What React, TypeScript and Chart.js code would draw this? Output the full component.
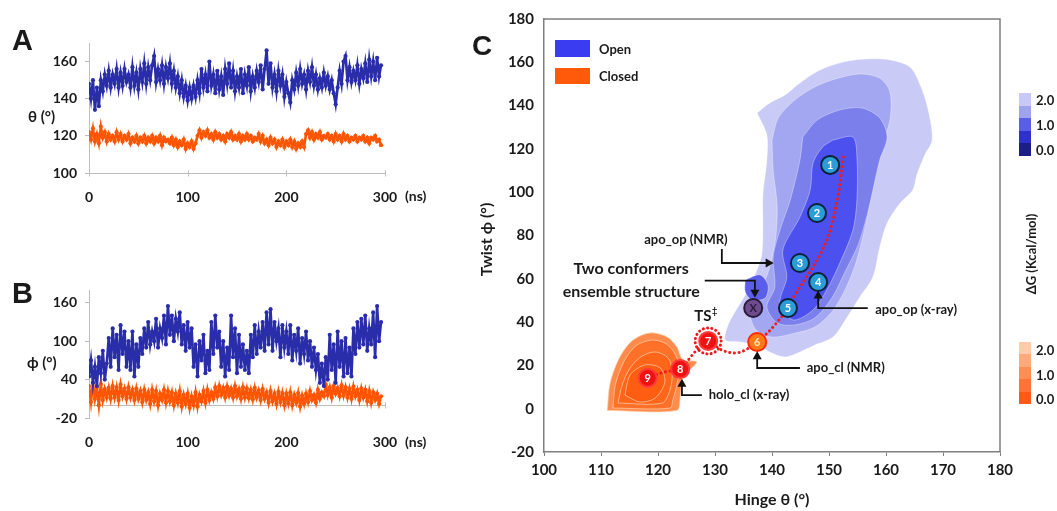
import React, { useEffect, useRef } from "react";
import { Chart, registerables } from "chart.js";

Chart.register(...registerables);

const FONT = "Lato, 'Open Sans', 'DejaVu Sans', sans-serif";

// ---------------- Panels A & B : MD trajectories ----------------
const TIME_STEP_NS = 2;
const TIME_TICKS = [0, 100, 200, 300];
const THETA_TICKS = [100, 120, 140, 160];
const PHI_TICKS = [-20, 40, 100, 160];

// Hinge angle theta (deg), one value every 2 ns
const THETA_OPEN = [
  148, 140, 150, 134, 146, 136, 150, 144, 153, 147,
  155, 146, 153, 148, 156, 146, 154, 147, 156, 149,
  153, 146, 157, 147, 154, 145, 156, 149, 159, 148,
  157, 150, 158, 163, 149, 156, 150, 158, 148, 157,
  151, 159, 148, 155, 146, 152, 143, 150, 141, 147,
  139, 146, 140, 147, 141, 150, 143, 156, 146, 153,
  144, 160, 147, 153, 143, 155, 145, 152, 142, 156,
  148, 159, 146, 155, 144, 152, 146, 156, 143, 153,
  147, 157, 144, 152, 146, 155, 149, 158, 145, 156,
  166, 148, 159, 146, 153, 144, 155, 147, 153, 141,
  149, 143, 138, 150, 145, 154, 147, 156, 148, 153,
  145, 155, 149, 157, 147, 153, 145, 151, 146, 154,
  147, 152, 145, 150, 143, 137, 146, 155, 148, 160,
  163, 150, 157, 149, 155, 150, 158, 148, 156, 151,
  159, 149, 161, 152, 160, 150, 162, 152, 158,
];
const THETA_CLOSED = [
  122, 118, 124, 117, 121, 116, 125, 119, 122, 117,
  121, 118, 120, 117, 122, 118, 121, 117, 120, 118,
  121, 116, 119, 117, 120, 116, 119, 117, 120, 116,
  119, 117, 120, 116, 119, 117, 120, 115, 119, 117,
  118, 116, 119, 115, 118, 114, 117, 115, 118, 113,
  116, 114, 117, 113, 116, 120, 123, 119, 122, 120,
  123, 119, 121, 118, 122, 119, 121, 118, 120, 117,
  121, 119, 122, 118, 120, 118, 121, 117, 120, 118,
  121, 118, 120, 117, 119, 118, 121, 117, 120, 116,
  118, 115, 119, 116, 118, 114, 117, 115, 118, 114,
  117, 115, 118, 114, 117, 113, 116, 114, 117, 114,
  121, 123, 119, 122, 118, 121, 119, 122, 118, 120,
  119, 121, 118, 120, 117, 121, 118, 120, 117, 121,
  118, 120, 117, 119, 118, 120, 117, 119, 118, 120,
  117, 119, 116, 119, 118, 120, 117, 118, 115,
];
// Twist angle phi (deg), one value every 2 ns
const PHI_OPEN = [
  45, 70, 35, 60, 30, 75, 50, 85, 40, 65,
  105, 60, 120, 75, 110, 55, 125, 80, 115, 60,
  100, 55, 115, 45, 95, 60, 105, 80, 120, 90,
  130, 95, 115, 100, 135, 90, 120, 105, 140, 95,
  155, 110, 140, 100, 135, 115, 145, 95, 125, 85,
  130, 90, 120, 60, 95, 45, 100, 70, 110, 50,
  85, 55, 130, 80, 140, 90, 115, 60, 100, 45,
  90, 55, 140, 75, 120, 50, 110, 60, 95, 55,
  85, 50, 110, 75, 125, 80, 115, 90, 130, 85,
  145, 95, 150, 85, 130, 100, 120, 75, 125, 90,
  115, 80, 125, 70, 110, 85, 120, 65, 105, 80,
  115, 70, 100, 60, 90, 55, 80, 35, 65, 30,
  75, 40, 110, 55, 95, 35, 115, 60, 100, 45,
  105, 50, 90, 45, 120, 80, 130, 90, 135, 95,
  140, 85, 120, 95, 145, 75, 155, 100, 130,
];
const PHI_CLOSED = [
  30, 5, 35, 10, 28, 0, 33, 8, 25, 12,
  27, 10, 30, 12, 28, 8, 32, 14, 26, 10,
  28, 12, 24, 8, 26, 10, 22, 5, 24, 8,
  20, 2, 24, 6, 22, 0, 18, 8, 24, 4,
  22, 6, 20, 0, 18, 4, 22, -2, 16, 2,
  18, -4, 14, 0, 20, -2, 16, 6, 22, 4,
  24, 8, 20, 10, 28, 14, 30, 16, 27, 12,
  29, 15, 26, 12, 30, 14, 25, 10, 28, 12,
  26, 11, 24, 9, 27, 12, 23, 8, 25, 10,
  20, 4, 22, 6, 18, 2, 21, 5, 19, 0,
  18, 3, 20, 0, 16, 4, 19, -2, 15, 2,
  18, 5, 22, 8, 16, 4, 24, 10, 20, 14,
  32, 16, 28, 12, 30, 18, 27, 14, 31, 15,
  28, 12, 26, 10, 29, 14, 24, 8, 26, 12,
  24, 6, 22, 4, 20, 8, 18, 2, 14,
];

// ---------------- Panel C : free-energy landscape ----------------
const HINGE_TICKS = [100, 110, 120, 130, 140, 150, 160, 170, 180];
const TWIST_TICKS = [-20, 0, 20, 40, 60, 80, 100, 120, 140, 160, 180];

// contour outlines [hinge, twist]
const OPEN_LEVEL_20 = [
  [137.4, 136.6], [139.6, 141.2], [142.3, 144.9], [144.9, 150.4], [148.4, 156.4], [152.5, 160.1],
  [156.3, 161.5], [160.7, 161.1], [164.2, 157.8], [166.0, 149.5], [167.4, 138.0], [168.1, 124.1],
  [166.8, 117.2], [165.4, 107.9], [164.7, 101.0], [162.5, 95.0], [160.2, 85.8], [158.9, 74.7],
  [157.7, 60.8], [155.4, 51.6], [153.2, 42.4], [150.7, 33.1], [147.5, 29.4], [144.9, 26.2],
  [142.3, 23.9], [139.6, 26.2], [137.4, 29.4], [134.4, 30.8], [131.8, 31.7], [132.3, 38.7],
  [133.5, 44.7], [135.3, 52.5], [137.0, 61.8], [138.2, 71.0], [138.4, 84.8], [138.4, 98.7],
  [139.1, 114.9], [139.1, 126.4], [137.4, 136.6],
];
const OPEN_LEVEL_15 = [
  [140.0, 124.1], [141.1, 134.3], [144.0, 142.6], [147.5, 148.6], [151.1, 152.3], [155.4, 154.6],
  [158.9, 152.7], [160.7, 146.3], [160.7, 133.3], [159.3, 121.8], [158.1, 110.3], [157.2, 98.7],
  [156.8, 89.5], [155.8, 77.9], [154.6, 66.4], [152.8, 54.8], [150.5, 44.7], [147.5, 37.7],
  [144.0, 34.9], [140.0, 33.1], [137.2, 36.4], [136.1, 44.7], [137.0, 52.5], [138.8, 59.4],
  [140.0, 69.6], [140.7, 80.2], [140.9, 94.1], [140.2, 110.3], [140.0, 124.1],
];
const OPEN_LEVEL_10 = [
  [145.4, 125.5], [147.9, 133.3], [151.9, 138.0], [155.8, 138.9], [158.9, 134.3], [160.2, 125.5],
  [158.9, 114.9], [157.7, 101.0], [156.7, 89.5], [155.1, 75.6], [152.8, 63.1], [150.5, 51.1],
  [147.5, 41.9], [144.0, 38.7], [140.9, 39.6], [139.1, 47.0], [140.5, 56.2], [140.2, 70.1],
  [141.4, 82.5], [143.2, 96.4], [144.9, 114.9], [145.4, 125.5],
];
const OPEN_LEVEL_05 = [
  [150.7, 124.1], [154.2, 125.5], [154.9, 116.3], [154.9, 96.4], [154.2, 82.5], [151.9, 67.3],
  [149.6, 54.8], [147.2, 45.6], [143.7, 41.0], [141.4, 48.8], [142.6, 60.8], [141.9, 73.3],
  [144.9, 88.5], [146.7, 101.0], [147.2, 113.5], [148.9, 120.9], [150.7, 124.1],
];
const OPEN_PATCH_05 = [
  [135.3, 59.4], [137.9, 61.8], [139.3, 57.1], [138.8, 51.1], [136.5, 50.2], [135.3, 53.9], [135.3, 59.4],
];
const CLOSED_LEVEL_20 = [
  [111.1, -0.8], [111.6, 11.9], [113.3, 23.9], [115.6, 31.7], [118.6, 35.0], [121.6, 33.1],
  [123.3, 28.5], [124.4, 22.5], [126.8, 21.6], [124.4, 14.6], [123.9, 5.4], [123.3, -0.8], [111.1, -0.8],
];
const CLOSED_LEVEL_15 = [
  [112.1, 0.3], [112.5, 10.9], [114.0, 21.6], [116.1, 29.0], [118.9, 31.7], [121.2, 30.3],
  [122.8, 26.2], [123.7, 19.7], [123.3, 10.9], [122.6, 4.0], [122.1, 0.3], [112.1, 0.3],
];
const CLOSED_LEVEL_10 = [
  [113.0, 2.6], [113.7, 10.9], [115.1, 18.8], [117.2, 24.3], [119.6, 26.2], [121.8, 23.4],
  [122.5, 17.0], [122.1, 8.6], [120.7, 2.6], [113.0, 2.6],
];
const CLOSED_LEVEL_05 = [
  [114.2, 6.3], [115.1, 15.6], [117.7, 20.2], [120.4, 18.8], [121.2, 12.3], [119.5, 4.9], [116.8, 3.1], [114.2, 6.3],
];

// transition pathway
const PATHWAY = [
  [152.5, 116.3], [151.6, 98.7], [150.2, 82.5], [148.4, 71.0], [146.3, 61.8], [144.0, 52.5],
  [142.8, 46.5], [140.5, 38.7], [138.8, 34.0], [137.4, 30.8], [135.3, 27.1], [133.5, 25.7],
  [131.2, 27.1], [129.5, 30.3], [128.8, 31.3], [126.8, 27.1], [125.3, 22.5], [123.9, 18.3],
  [121.2, 17.0], [118.2, 14.2],
];

// numbered structures
const MARKER_LABELS = ["1", "2", "3", "4", "5", "6", "7", "8", "9", "X"];
const MARKER_HINGE = [150.2, 147.9, 144.9, 148.1, 142.8, 137.4, 128.8, 123.9, 118.2, 136.7];
const MARKER_TWIST = [112.6, 90.4, 67.3, 58.5, 46.5, 30.8, 31.3, 18.3, 14.2, 46.5];
const MARKER_KIND = ["open", "open", "open", "open", "open", "apo_cl", "closed", "closed", "closed", "ensemble"];
const TS_MARKER_INDEX = 6;

// call-outs
const CALLOUT_TEXT = ["apo_op (NMR)", "apo_op (x-ray)", "apo_cl (NMR)", "holo_cl (x-ray)"];
const CALLOUT_TEXT_AT = [[124.9, 77.9], [158.1, 45.6], [146.1, 18.8], [128.9, 6.3]];
const CALLOUT_ALIGN = ["center", "left", "left", "left"];
const CALLOUT_PATHS = [
  [[131.2, 73.8], [131.2, 67.3], [140.3, 67.3]],
  [[156.8, 46.5], [148.1, 46.5], [148.1, 54.6]],
  [[144.9, 18.8], [137.4, 18.8], [137.4, 26.5]],
  [[127.7, 6.3], [124.2, 6.3], [124.2, 13.8]],
];
const ENSEMBLE_TEXT = ["Two conformers", "ensemble structure"];
const ENSEMBLE_TEXT_AT = [[115.3, 64.5], [115.3, 53.9]];
const ENSEMBLE_PATH = [[128.2, 59.2], [137.0, 59.2], [137.0, 51.2]];
const TS_TEXT_AT = [128.4, 42.8];

const BLUE_SERIES = "#2A2DAA";
const ORANGE_SERIES = "#FF5500";
const AXIS_GRAY = "#BDBDBD";
const FRAME = "#7F7F7F";
const TEXT = "#1A1A1A";

const MARKER_FILL: Record<string, string> = {
  open: "#2A9CD6",
  apo_cl: "#FF7A14",
  closed: "#F01212",
  ensemble: "#6C4C8C",
};
const MARKER_EDGE: Record<string, string> = {
  open: "#0C2238",
  apo_cl: "#FF2A00",
  closed: "#FF3A3A",
  ensemble: "#2A1A3A",
};

const tickFont = { family: FONT, size: 14, weight: "bold" as const };

const crossAxisPlugin = {
  id: "crossAxis",
  beforeDatasetsDraw(chart: any, _args: any, opts: any) {
    if (opts == null || opts.value == null) return;
    const { ctx, chartArea, scales } = chart;
    const y = Math.round(scales.y.getPixelForValue(opts.value)) + 0.5;
    ctx.save();
    ctx.strokeStyle = AXIS_GRAY;
    ctx.lineWidth = 1;
    ctx.beginPath();
    ctx.moveTo(chartArea.left, y);
    ctx.lineTo(chartArea.right, y);
    for (const t of TIME_TICKS) {
      const x = Math.round(scales.x.getPixelForValue(t)) + 0.5;
      ctx.moveTo(x, y - 3);
      ctx.lineTo(x, y + 3);
    }
    ctx.stroke();
    ctx.restore();
  },
};

function toSeries(values: number[]) {
  return values.map((v, i) => ({ x: i * TIME_STEP_NS, y: v }));
}

function seriesConfig(open: number[], closed: number[], yMin: number, yMax: number, yTicks: number[], cross: number, padTop: number, xHeight: number) {
  const ds = (values: number[], color: string) => ({
    data: toSeries(values),
    borderColor: color,
    backgroundColor: color,
    borderWidth: 2.6,
    pointRadius: 2.1,
    pointBorderWidth: 0,
    pointBackgroundColor: color,
    tension: 0,
  });
  return {
    type: "line" as const,
    data: { datasets: [ds(open, BLUE_SERIES), ds(closed, ORANGE_SERIES)] },
    options: {
      animation: false as const,
      responsive: false,
      maintainAspectRatio: false,
      events: [],
      layout: { padding: { left: 0, right: 35, top: padTop, bottom: 0 } },
      plugins: { legend: { display: false }, tooltip: { enabled: false }, crossAxis: { value: cross } },
      scales: {
        x: {
          type: "linear" as const,
          min: 0,
          max: 300,
          afterBuildTicks: (s: any) => { s.ticks = TIME_TICKS.map((value) => ({ value })); },
          afterFit: (s: any) => { s.height = xHeight; },
          border: { display: false },
          grid: { display: false, drawTicks: false },
          ticks: { font: tickFont, color: TEXT, padding: 16, maxRotation: 0 },
        },
        y: {
          min: yMin,
          max: yMax,
          afterBuildTicks: (s: any) => { s.ticks = yTicks.map((value) => ({ value })); },
          afterFit: (s: any) => { s.width = 89; },
          border: { display: true, color: AXIS_GRAY, width: 1 },
          grid: { display: true, drawOnChartArea: false, drawTicks: true, tickLength: 4, color: AXIS_GRAY },
          ticks: { font: tickFont, color: TEXT, padding: 8 },
        },
      },
    },
    plugins: [crossAxisPlugin],
  };
}

function drawArrow(ctx: CanvasRenderingContext2D, pts: number[][]) {
  const n = pts.length;
  const [x1, y1] = pts[n - 2];
  const [x2, y2] = pts[n - 1];
  const ang = Math.atan2(y2 - y1, x2 - x1);
  const L = 8, W = 4.5;
  ctx.beginPath();
  ctx.moveTo(pts[0][0], pts[0][1]);
  for (let i = 1; i < n - 1; i++) ctx.lineTo(pts[i][0], pts[i][1]);
  ctx.lineTo(x2 - Math.cos(ang) * (L - 1), y2 - Math.sin(ang) * (L - 1));
  ctx.stroke();
  ctx.beginPath();
  ctx.moveTo(x2, y2);
  ctx.lineTo(x2 - L * Math.cos(ang) + W * Math.sin(ang), y2 - L * Math.sin(ang) - W * Math.cos(ang));
  ctx.lineTo(x2 - L * Math.cos(ang) - W * Math.sin(ang), y2 - L * Math.sin(ang) + W * Math.cos(ang));
  ctx.closePath();
  ctx.fill();
}

const landscapePlugin = {
  id: "landscape",
  afterDatasetsDraw(chart: any) {
    const { ctx, chartArea: a, scales } = chart;
    const px = (v: number) => scales.x.getPixelForValue(v);
    const py = (v: number) => scales.y.getPixelForValue(v);
    const P = (p: number[]) => [px(p[0]), py(p[1])];
    ctx.save();

    // frame top & right
    ctx.strokeStyle = FRAME;
    ctx.lineWidth = 1.5;
    ctx.beginPath();
    ctx.moveTo(a.left, a.top);
    ctx.lineTo(a.right, a.top);
    ctx.lineTo(a.right, a.bottom);
    ctx.stroke();

    // dotted ring around transition state
    const meta = chart.getDatasetMeta(chart.data.datasets.length - 1);
    const ts = meta.data[TS_MARKER_INDEX];
    ctx.strokeStyle = "#F01818";
    ctx.lineWidth = 3;
    ctx.lineCap = "round";
    ctx.setLineDash([0.1, 4.2]);
    ctx.beginPath();
    ctx.arc(ts.x, ts.y, 13, 0, Math.PI * 2);
    ctx.stroke();
    ctx.setLineDash([]);

    // marker labels
    ctx.textAlign = "center";
    ctx.textBaseline = "middle";
    meta.data.forEach((el: any, i: number) => {
      const kind = MARKER_KIND[i];
      ctx.font = `bold 11px ${FONT}`;
      ctx.fillStyle = kind === "ensemble" ? "#2A1A3A" : kind === "apo_cl" ? "#FFE6C8" : "#FFFFFF";
      ctx.fillText(MARKER_LABELS[i], el.x, el.y + 0.5);
    });

    // call-outs
    ctx.strokeStyle = "#111";
    ctx.fillStyle = "#111";
    ctx.lineWidth = 1.8;
    ctx.lineCap = "butt";
    CALLOUT_PATHS.forEach((path) => drawArrow(ctx, path.map(P)));
    drawArrow(ctx, ENSEMBLE_PATH.map(P));

    ctx.fillStyle = TEXT;
    ctx.font = `bold 13px ${FONT}`;
    CALLOUT_TEXT.forEach((t, i) => {
      ctx.textAlign = CALLOUT_ALIGN[i] as CanvasTextAlign;
      const [x, y] = P(CALLOUT_TEXT_AT[i]);
      ctx.fillText(t, x, y);
    });
    ctx.font = `bold 16px ${FONT}`;
    ctx.textAlign = "center";
    ENSEMBLE_TEXT.forEach((t, i) => {
      const [x, y] = P(ENSEMBLE_TEXT_AT[i]);
      ctx.fillText(t, x, y);
    });
    {
      const [x, y] = P(TS_TEXT_AT);
      ctx.font = `bold 15px ${FONT}`;
      ctx.textAlign = "center";
      ctx.fillText("TS", x - 3, y);
      const w = ctx.measureText("TS").width;
      ctx.font = `bold 9px ${FONT}`;
      ctx.textAlign = "left";
      ctx.fillText("‡", x - 3 + w / 2 + 0.5, y - 5);
    }

    // axis titles
    ctx.fillStyle = TEXT;
    ctx.font = `bold 16px ${FONT}`;
    ctx.textAlign = "center";
    ctx.fillText("Hinge θ (°)", (a.left + a.right) / 2, a.bottom + 48);
    ctx.save();
    ctx.translate(a.left - 57, (a.top + a.bottom) / 2 + 4);
    ctx.rotate(-Math.PI / 2);
    ctx.fillText("Twist ϕ (°)", 0, 0);
    ctx.restore();

    ctx.restore();
  },
};

function contour(points: number[][], color: string, edge: string, order: number) {
  return {
    type: "line" as const,
    data: points.map(([x, y]) => ({ x, y })),
    borderColor: edge,
    borderWidth: 1,
    backgroundColor: color,
    fill: "shape",
    pointRadius: 0,
    tension: 0.3,
    order,
  };
}

function landscapeConfig() {
  const blueEdge = "rgba(255,255,255,0.35)";
  const orangeEdge = "rgba(255,210,175,0.7)";
  return {
    type: "line" as const,
    data: {
      datasets: [
        contour(OPEN_LEVEL_20, "#C9CAF6", blueEdge, 20),
        contour(OPEN_LEVEL_15, "#A3A6F0", blueEdge, 19),
        contour(OPEN_LEVEL_10, "#7B7FEC", blueEdge, 18),
        contour(OPEN_LEVEL_05, "#4C50EF", blueEdge, 17),
        contour(OPEN_PATCH_05, "#5A5EEA", blueEdge, 16),
        contour(CLOSED_LEVEL_20, "#FF8C4C", orangeEdge, 15),
        contour(CLOSED_LEVEL_15, "#FF7028", orangeEdge, 14),
        contour(CLOSED_LEVEL_10, "#FF661A", orangeEdge, 13),
        contour(CLOSED_LEVEL_05, "#FF5E12", orangeEdge, 12),
        {
          type: "line" as const,
          data: PATHWAY.map(([x, y]) => ({ x, y })),
          borderColor: "#EE1C1C",
          borderWidth: 3,
          borderDash: [0.1, 4.6],
          borderCapStyle: "round" as const,
          pointRadius: 0,
          fill: false,
          tension: 0.35,
          order: 2,
        },
        {
          type: "line" as const,
          data: MARKER_HINGE.map((x, i) => ({ x, y: MARKER_TWIST[i] })),
          showLine: false,
          pointRadius: 9,
          pointBorderWidth: 2,
          pointBackgroundColor: MARKER_KIND.map((k) => MARKER_FILL[k]),
          pointBorderColor: MARKER_KIND.map((k) => MARKER_EDGE[k]),
          order: 0,
        },
      ],
    },
    options: {
      animation: false as const,
      responsive: false,
      maintainAspectRatio: false,
      events: [],
      layout: { padding: { left: 0, right: 57, top: 19, bottom: 0 } },
      plugins: { legend: { display: false }, tooltip: { enabled: false } },
      scales: {
        x: {
          type: "linear" as const,
          min: 100,
          max: 180,
          afterBuildTicks: (s: any) => { s.ticks = HINGE_TICKS.map((value) => ({ value })); },
          afterFit: (s: any) => { s.height = 59; },
          border: { display: true, color: FRAME, width: 1.5 },
          grid: { display: true, drawOnChartArea: false, drawTicks: true, tickLength: 4, color: FRAME },
          ticks: { font: { family: FONT, size: 15, weight: "bold" as const }, color: TEXT, padding: 5, maxRotation: 0 },
        },
        y: {
          type: "linear" as const,
          min: -20,
          max: 180,
          afterBuildTicks: (s: any) => { s.ticks = TWIST_TICKS.map((value) => ({ value })); },
          afterFit: (s: any) => { s.width = 74; },
          border: { display: true, color: FRAME, width: 1.5 },
          grid: { display: false, drawTicks: false },
          ticks: { font: { family: FONT, size: 15, weight: "bold" as const }, color: TEXT, padding: 10 },
        },
      },
    },
    plugins: [landscapePlugin],
  };
}

const OPEN_BAR = ["#C8C9F6", "#9FA2EE", "#5A5EE4", "#2E32C8", "#1C1D86"];
const CLOSED_BAR = ["#FFCBAA", "#FFAA78", "#FF8E50", "#FF7432", "#FF5A14"];
const BAR_LABELS = ["2.0", "1.0", "0.0"];

export default function App() {
  const aRef = useRef<HTMLCanvasElement>(null);
  const bRef = useRef<HTMLCanvasElement>(null);
  const cRef = useRef<HTMLCanvasElement>(null);

  useEffect(() => {
    const charts: Chart[] = [];
    if (aRef.current) charts.push(new Chart(aRef.current, seriesConfig(THETA_OPEN, THETA_CLOSED, 100, 170, THETA_TICKS, 100, 43, 57) as any));
    if (bRef.current) charts.push(new Chart(bRef.current, seriesConfig(PHI_OPEN, PHI_CLOSED, -20, 180, PHI_TICKS, 0, 40, 62) as any));
    if (cRef.current) charts.push(new Chart(cRef.current, landscapeConfig() as any));
    return () => charts.forEach((c) => c.destroy());
  }, []);

  const txt = (size: number): React.CSSProperties => ({
    position: "absolute",
    fontFamily: FONT,
    fontWeight: 700,
    fontSize: size,
    lineHeight: 1,
    color: TEXT,
    whiteSpace: "nowrap",
  });

  return (
    <div style={{ position: "absolute", left: 0, top: 0, width: 1057, height: 511, background: "#fff", overflow: "hidden" }}>
      <canvas ref={aRef} width={420} height={230} style={{ position: "absolute", left: 0, top: 0, width: 420, height: 230 }} />
      <canvas ref={bRef} width={420} height={230} style={{ position: "absolute", left: 0, top: 250, width: 420, height: 230 }} />
      <canvas ref={cRef} width={587} height={511} style={{ position: "absolute", left: 470, top: 0, width: 587, height: 511 }} />

      <div style={{ ...txt(29), left: 12, top: 26, fontFamily: "'Liberation Sans', Arial, sans-serif" }}>A</div>
      <div style={{ ...txt(29), left: 12, top: 279, fontFamily: "'Liberation Sans', Arial, sans-serif" }}>B</div>
      <div style={{ ...txt(28), left: 472, top: 32, fontFamily: "'Liberation Sans', Arial, sans-serif" }}>C</div>

      <div style={{ ...txt(15), left: 28, top: 109 }}>θ (°)</div>
      <div style={{ ...txt(15), left: 27, top: 355 }}>ϕ (°)</div>
      <div style={{ ...txt(14), left: 405, top: 189 }}>(ns)</div>
      <div style={{ ...txt(14), left: 405, top: 435 }}>(ns)</div>

      {/* legend */}
      <div style={{ position: "absolute", left: 555, top: 40, width: 35, height: 17, background: "#3A3CF2" }} />
      <div style={{ ...txt(13), left: 599, top: 43 }}>Open</div>
      <div style={{ position: "absolute", left: 555, top: 68, width: 35, height: 16, background: "#FF5A0A" }} />
      <div style={{ ...txt(13), left: 599, top: 70 }}>Closed</div>

      {/* colour bars */}
      <div style={{ position: "absolute", left: 1019, top: 93, width: 12, height: 63, display: "flex", flexDirection: "column" }}>
        {OPEN_BAR.map((c) => <div key={c} style={{ flex: 1, background: c }} />)}
      </div>
      <div style={{ position: "absolute", left: 1019, top: 342, width: 12, height: 62, display: "flex", flexDirection: "column" }}>
        {CLOSED_BAR.map((c) => <div key={c} style={{ flex: 1, background: c }} />)}
      </div>
      {BAR_LABELS.map((t, i) => (
        <div key={"o" + t} style={{ ...txt(13), left: 1036, top: 94 + i * 25 }}>{t}</div>
      ))}
      {BAR_LABELS.map((t, i) => (
        <div key={"c" + t} style={{ ...txt(13), left: 1036, top: 344 + i * 24.5 }}>{t}</div>
      ))}
      <div style={{ ...txt(13), left: 1031, top: 254, transform: "translate(-50%, -50%) rotate(-90deg)" }}>ΔG (Kcal/mol)</div>
    </div>
  );
}
